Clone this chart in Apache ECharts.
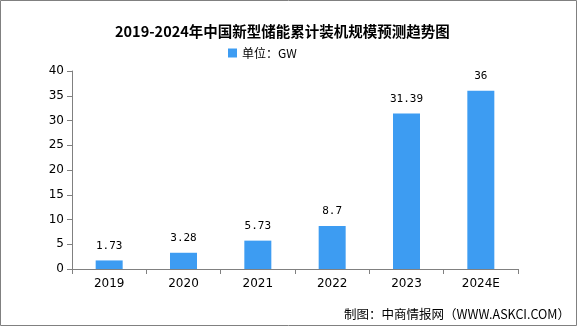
<!DOCTYPE html>
<html><head><meta charset="utf-8">
<script src="https://cdn.jsdelivr.net/npm/echarts@6/dist/echarts.min.js"></script>
<style>html,body{margin:0;padding:0;background:#fff}#c{width:585px;height:327px}</style>
</head><body><div id="c"></div>
<script>
const categories = ['2019','2020','2021','2022','2023','2024E'];
const values = [1.73, 3.28, 5.73, 8.7, 31.39, 36];
const yTicks = [0, 5, 10, 15, 20, 25, 30, 35, 40];
const titleText = '2019-2024年中国新型储能累计装机规模预测趋势图';
const legendName = '单位：GW';
const sourceText = '制图：中商情报网（WWW.ASKCI.COM）';

const chart = echarts.init(document.getElementById('c'), null, {renderer: 'canvas'});
chart.setOption({
  animation: false,
  title: {
    text: titleText, left: 110, top: 19,
    textStyle: {fontFamily: '"Noto Sans CJK SC", serif', fontWeight: 'bold', fontSize: 14.5, color: '#000'}
  },
  legend: {
    data: [legendName], top: 47, left: 228, itemWidth: 9, itemHeight: 9, itemGap: 4,
    icon: 'rect', padding: 0,
    textStyle: {fontFamily: '"Noto Sans CJK SC", sans-serif', fontSize: 12, color: '#000'}
  },
  grid: {left: 72, right: 67, top: 71, bottom: 58},
  xAxis: {
    type: 'category', data: categories,
    axisLine: {lineStyle: {color: '#808080', width: 1}},
    axisTick: {show: true, length: 5, alignWithLabel: false, lineStyle: {color: '#808080'}},
    axisLabel: {color: '#000', fontSize: 12, fontFamily: '"DejaVu Sans", sans-serif', margin: 9}
  },
  yAxis: {
    type: 'value', min: yTicks[0], max: yTicks[yTicks.length-1], interval: yTicks[1]-yTicks[0],
    axisLine: {show: true, lineStyle: {color: '#808080', width: 1}},
    axisTick: {show: true, length: 5, lineStyle: {color: '#808080'}},
    splitLine: {show: false},
    axisLabel: {color: '#000', fontSize: 12, fontFamily: '"DejaVu Sans", sans-serif', margin: 8}
  },
  series: [{
    name: legendName, type: 'bar', data: values, barWidth: 27,
    itemStyle: {color: '#3d9cf2'},
    label: {show: true, position: 'top', distance: 9, color: '#000', fontSize: 11,
      fontFamily: '"DejaVu Sans Mono", monospace'}
  }],
  graphic: [
    {type: 'rect', shape: {x: 0.5, y: 0.5, width: 576, height: 325}, style: {fill: 'none', stroke: '#808080', lineWidth: 1}, silent: true},
    {type: 'text', right: 15, bottom: 6, style: {text: sourceText, fontSize: 12.5, fill: '#000', fontFamily: '"Noto Sans CJK SC", sans-serif'}}
  ]
});
</script></body></html>
